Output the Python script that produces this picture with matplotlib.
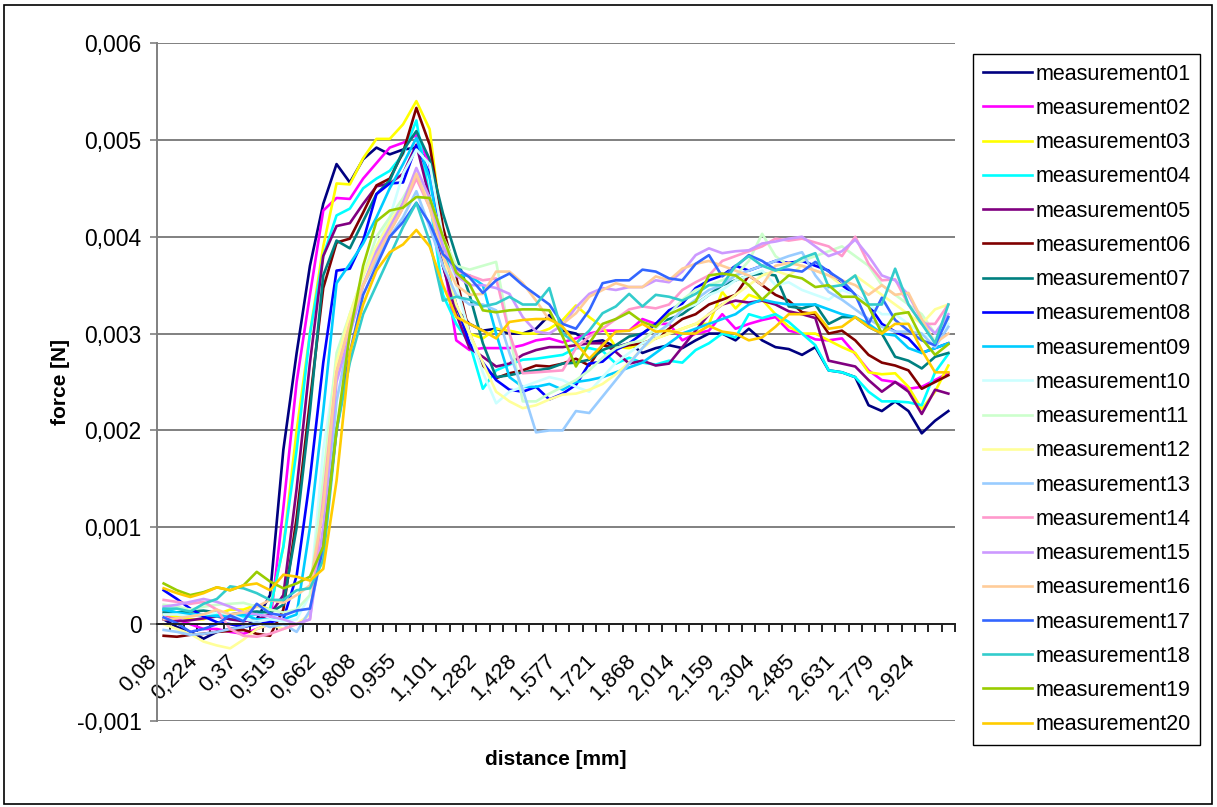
import matplotlib.pyplot as plt
from matplotlib.patches import Rectangle
from matplotlib.transforms import ScaledTranslation
import numpy as np

plt.rcParams['font.family'] = ['Liberation Sans', 'DejaVu Sans']

# category labels on the distance axis (every 3rd category is labelled)
distance_labels = ['0,08', '0,224', '0,37', '0,515', '0,662', '0,808', '0,955', '1,101',
                   '1,282', '1,428', '1,577', '1,721', '1,868', '2,014', '2,159', '2,304',
                   '2,485', '2,631', '2,779', '2,924']

# force values, in units of 1e-4 N (60 points each)
m01 = [0.5, -0.3, -0.8, -1.5, -0.8, -0.5, -0.3, 0.5, 3, 18,
       28, 37, 43.4, 47.5, 45.6, 48, 49.2, 48.5, 49, 49.2,
       47.6, 37, 32.5, 31, 30.3, 30.5, 30, 30, 30.5, 31.9,
       30.3, 30, 29.1, 29.3, 28.6, 29, 28, 28.5, 28.8, 28.5,
       29.3, 30, 30, 29.3, 30.5, 29.3, 28.6, 28.4, 27.8, 28.6,
       26.2, 26, 25.5, 22.6, 22, 23, 22, 19.7, 21, 22]
m02 = [1, 0.5, 0, -0.5, -0.5, -0.8, -1, -0.5, 0, 12,
       25, 34, 42.7, 44, 43.9, 46, 47.6, 49.2, 49.7, 50.5,
       47.5, 38, 29.3, 28.3, 28.5, 28.5, 28.5, 28.8, 29.3, 29.5,
       29.1, 29.5, 30, 30.3, 30.3, 30.3, 31.5, 31, 31, 29.3,
       30, 30.3, 32, 30.5, 31, 31.4, 31.7, 30.3, 30, 29.4,
       29.3, 29.5, 27.9, 26.2, 25.2, 25, 24.3, 24.5, 25.2, 25.9]
m03 = [1, 0.8, 0.5, 0.5, 1, 1.5, 1.5, 2, 1.5, 8,
       20, 30, 39, 45.5, 45.4, 48.1, 50.1, 50.1, 51.6, 54,
       51.1, 40, 32, 30, 29.5, 30.5, 30.3, 30, 30, 30.5,
       31.4, 32.9, 31.7, 30.7, 28.6, 28.5, 29, 29.5, 30, 30.5,
       31, 31, 34.3, 32.6, 34, 33.5, 32, 30.7, 30, 30,
       29.3, 28.6, 28, 26, 25.8, 25.9, 24.5, 22.2, 24, 26.7]
m04 = [1.5, 1.2, 1, 0.8, 1, 0.5, 0.8, 1, 1.5, 8,
       18, 30, 38, 42.2, 42.9, 45, 46, 46.8, 48.5, 52,
       44, 34, 31, 29, 24.3, 26.2, 26.8, 27.3, 27.4, 27.6,
       27.8, 28.5, 28.5, 28.2, 26.9, 27.5, 27, 26.8, 27.2, 27,
       28.3, 29, 30, 29.6, 32, 31.6, 32, 31.2, 30, 28.8,
       26.2, 26, 25.5, 24, 23, 23, 22.9, 22.6, 26, 27.9]
m05 = [0.5, 0.3, 0.4, 0.6, 0.8, 0.5, 0.3, 0.5, 1, 3,
       14, 27, 38, 41.1, 41.4, 43.4, 45.2, 45.5, 46.5, 49.5,
       44, 37, 32, 28.5, 27.6, 26.6, 26.9, 27.8, 28.3, 28.6,
       28.6, 28.8, 29, 29, 28.1, 26.9, 27.2, 26.7, 26.9, 28.6,
       30.3, 32, 33, 33.4, 33.2, 33.4, 33, 32.3, 32, 31.6,
       27.2, 26.9, 26.6, 25.2, 24, 25, 24, 21.7, 24.2, 23.8]
m06 = [-1.2, -1.3, -1.1, -1, -0.8, -0.7, -0.6, -1, -1.2, 1.5,
       11, 23, 34.7, 39.4, 39.8, 42.5, 45.3, 46, 48.7, 53.3,
       49.5, 41, 35.8, 30, 26.7, 25.4, 25.9, 26.2, 26.7, 26.6,
       26.9, 27.4, 26.7, 28.8, 28.5, 28.8, 29, 29.5, 30.5, 31.5,
       32, 33, 33.5, 34, 36, 35, 34, 33.4, 32.2, 32,
       30, 30.3, 29.3, 27.8, 27, 26.7, 26.2, 24.3, 25, 25.7]
m07 = [1.2, 1.2, 1.3, 1.4, 1.2, 1, 1.2, 1.3, 1.2, 2,
       10, 22, 36, 39.6, 38.8, 41.6, 44.4, 45.8, 48.9, 50.9,
       48, 42.4, 38, 34, 29, 25.5, 25.7, 26, 26.2, 26.4,
       26.9, 27, 27.3, 28.3, 28.8, 29.7, 30, 31, 31.5, 32,
       33, 34, 35, 35.5, 36, 36.2, 36, 32.8, 32.6, 33,
       31, 31.7, 31.7, 30.7, 30, 27.6, 27.2, 26.4, 27.6, 28]
m08 = [3.5, 2.6, 1.6, 0.8, 0.2, 0, -0.3, 0, 0.2, 0.5,
       5, 15, 27, 36.5, 36.7, 39.6, 44.4, 45.5, 45.6, 49.4,
       46.5, 38, 33, 29, 27, 25.2, 24.2, 24, 24.5, 23.2,
       23.8, 24.7, 26.9, 27.1, 28.3, 29, 30, 31, 32.4, 33.1,
       34.7, 35.5, 36, 37, 36.5, 37, 37.5, 37.3, 37.5, 37,
       36.5, 35, 34, 33, 31, 30.2, 29.5, 28, 28.5, 29]
m09 = [1.5, 1.2, 1, 1, 0.8, 0.8, 1, 0.5, 0.5, 0.5,
       1, 10, 22, 35.2, 37.2, 39.3, 42, 45, 47.5, 50.2,
       46, 38, 36, 36, 35, 30, 25.5, 24.5, 24.5, 24.8,
       24.2, 25, 25.2, 25.5, 26, 26.5, 27, 28, 29, 30,
       30.5, 31, 31.5, 32, 33, 33.5, 33.2, 33, 33, 33,
       32.5, 32, 31.7, 31, 30, 29.8, 28.5, 28, 28.5, 29]
m10 = [1, 1, 0.8, 1, 1.2, 1, 0.5, 0.3, 0.5, 0.3,
       0.5, 3, 18, 27, 32, 36, 39, 42, 46.5, 49,
       47.5, 40, 35, 30, 26, 22.8, 24, 24.5, 25, 25.5,
       25.2, 24.5, 24, 25.5, 27, 28, 29, 29.5, 31, 32.5,
       33, 34, 34.5, 35.5, 36, 36.5, 35, 35.3, 34.5, 34,
       33.5, 34.5, 34, 33, 32, 32, 31, 30, 29.5, 31]
m11 = [2, 1.8, 1.5, 1.8, 2, 2.1, 2.2, 1.8, 1.5, 1.2,
       1.5, 3, 15, 28, 32, 36, 40, 42, 44, 46.5,
       44, 40, 37, 36.6, 37, 37.4, 30, 23, 23, 23.8,
       24.5, 25.2, 26.2, 27.5, 28.5, 29, 29.3, 30.5, 32, 33.5,
       34.5, 35, 35.5, 36, 37.5, 40.3, 38, 37, 37.5, 38,
       38.5, 39, 38, 37, 35, 34, 33, 32, 30, 31.5]
m12 = [0, -0.5, -1, -1.8, -2.2, -2.5, -1.6, -0.5, 0, -0.5,
       0, 1, 13, 27, 32, 36, 39, 41.5, 43.5, 46,
       44, 38, 33, 30, 27, 24, 23, 22.3, 22.6, 23.2,
       23.7, 23.8, 24.2, 24.8, 25.8, 27, 28.5, 29.5, 30, 30.5,
       31, 32, 33, 34, 35, 36, 36.5, 36, 37, 36.5,
       36, 35, 36, 35, 34, 33, 32, 31, 32.5, 33]
m13 = [-0.6, -0.8, -1.1, -1, -0.8, -0.5, -0.3, 0.2, -0.3, 0,
       -0.8, 1.4, 8, 23, 30, 35, 37.5, 40, 42, 44.7,
       41, 37, 34, 33, 33, 32.4, 28, 24.2, 19.8, 20,
       20, 22, 21.8, 23.5, 25.2, 26.9, 28.5, 30, 31, 32.5,
       33.5, 34.5, 35, 36, 36.5, 37, 37.5, 38, 38.4, 36,
       34.3, 33.5, 32.5, 31.5, 30.7, 30.2, 30.2, 30, 28.6, 30.7]
m14 = [2.5, 2.3, 2.1, 2.3, 1.5, -0.5, -1.2, -1.3, -1, -0.5,
       0, 0.5, 13, 26, 31, 35, 38, 40.5, 43, 46,
       43, 39, 36.5, 36, 35.5, 35.7, 30, 25.9, 26, 26.1,
       26.2, 28.5, 29.7, 30.5, 31.5, 32.5, 32.8, 32.6, 33, 34.5,
       35.3, 36, 37.5, 38, 38.5, 39, 39.8, 39.6, 39.8, 39.4,
       39, 38, 40, 37.2, 35.5, 35.6, 33, 31, 31, 33]
m15 = [1.8, 2, 2.3, 2.6, 2.3, 1.8, 1.2, 1, 0.8, 0.5,
       0, 0.5, 10, 25, 30, 35, 38.5, 41, 43.5, 47.1,
       44, 39, 36, 35, 35, 34.7, 34.1, 31.7, 30.2, 30,
       30.9, 32.7, 34.1, 34.7, 34.5, 34.8, 34.8, 35.5, 35.3, 36.4,
       38.1, 38.8, 38.3, 38.5, 38.6, 39.3, 39.5, 39.8, 40, 39,
       38, 38.5, 39.7, 38, 36, 35.5, 34, 31.4, 30, 32]
m16 = [0.5, 0.6, 0.8, 1, 1.5, 1, 1.2, 1.8, 2.5, 2.2,
       3, 4, 12, 26, 31, 35, 38, 40.5, 43, 46.5,
       43, 38, 35, 34, 34.1, 36.4, 36.4, 35.2, 33.4, 31.4,
       31, 32.1, 33.8, 34.5, 35.2, 34.8, 34.8, 35.9, 35.5, 36.7,
       37.2, 37.5, 37, 36.5, 36, 35, 37, 37.3, 37, 36.5,
       36, 35.5, 35, 34, 35, 34, 34.2, 31.5, 29, 30]
m17 = [0.7, 0.1, -0.8, -0.5, 0, 0.9, 0.3, 2.1, 1.1, 0.9,
       1.4, 1.6, 8, 20, 28, 34, 37, 40, 41.5, 43.5,
       41.4, 38.2, 36.8, 35.8, 34.2, 35.5, 36.2, 35, 34, 33,
       31, 30.5, 32.4, 35.2, 35.5, 35.5, 36.6, 36.4, 35.7, 35.5,
       37.2, 38.1, 35.9, 36.9, 38.1, 37.5, 36.6, 36.6, 36.4, 37.4,
       36.4, 35.5, 34, 31, 33.7, 31.4, 30.3, 29.3, 28.8, 31.7]
m18 = [1.6, 1.6, 1.3, 2.1, 2.6, 3.9, 3.7, 3.2, 2.5, 2.5,
       3.5, 3.7, 6.6, 20, 27, 32, 35, 38, 41, 43.5,
       39.5, 33.4, 33.8, 33.5, 32.8, 33.1, 33.8, 33, 33, 34.7,
       30, 29, 30.3, 32.1, 32.8, 34.1, 32.8, 34, 33.8, 33.4,
       34.1, 35, 35, 37, 38, 37, 36.5, 37, 37.8, 38.3,
       34.8, 35, 36, 33, 33, 36.7, 33, 31, 29, 33]
m19 = [4.2, 3.5, 3.0, 3.3, 3.8, 3.5, 4.0, 5.4, 4.4, 3.7,
       4.2, 4.9, 8, 20, 30, 37, 41.6, 42.7, 43, 44.1,
       44, 40, 36.3, 35.1, 32.4, 32.2, 32.4, 32.5, 32.5, 32.4,
       29.7, 26.6, 29, 31, 31.5, 32.2, 31.2, 30.7, 32, 32.6,
       33.3, 36, 36.2, 36, 35, 33.5, 34.8, 36, 35.7, 34.8,
       35, 33.8, 33.8, 32.8, 30, 32, 32.2, 29.5, 27.8, 28.9]
m20 = [3.7, 3.2, 2.8, 3.2, 3.8, 3.5, 4.0, 4.2, 3.5, 5.1,
       4.9, 4.5, 5.7, 14.8, 28, 33, 36.5, 38.4, 39.2, 40.7,
       39, 35, 31.7, 31, 30.3, 29.5, 31.2, 31.4, 31.5, 31.5,
       30.7, 29, 27.4, 28.8, 30.2, 30.3, 31, 30.2, 30.3, 30,
       30, 30.8, 30.2, 30, 29.3, 29.6, 30.7, 32, 32, 32.2,
       30.5, 30.7, 31.7, 30.7, 30, 31, 31, 28.3, 26, 26]

series = [m01, m02, m03, m04, m05, m06, m07, m08, m09, m10,
          m11, m12, m13, m14, m15, m16, m17, m18, m19, m20]
names = ['measurement%02d' % (k + 1) for k in range(len(series))]
colors = ['#000080', '#ff00ff', '#ffff00', '#00ffff', '#800080', '#800000', '#008080',
          '#0000ff', '#00ccff', '#ccffff', '#ccffcc', '#ffff99', '#99ccff', '#ff99cc',
          '#cc99ff', '#ffcc99', '#3366ff', '#33cccc', '#99cc00', '#ffcc00']

fig = plt.figure(figsize=(12.17, 8.07), dpi=100)
ax = fig.add_axes([157 / 1217, 1 - 721 / 807, 798 / 1217, 678 / 807])

x = np.arange(len(m01))
for vals, col, name in zip(series, colors, names):
    ax.plot(x, np.array(vals) * 1e-4, color=col, lw=1.9, label=name)

ax.set_xlim(-0.5, len(m01) - 0.5)
ax.set_ylim(-0.001, 0.006)
yt = [-0.001, 0, 0.001, 0.002, 0.003, 0.004, 0.005, 0.006]
ax.set_yticks(yt)
ax.set_yticklabels(['-0,001', '0', '0,001', '0,002', '0,003', '0,004', '0,005', '0,006'],
                   fontsize=16.5)
ax.grid(axis='y', color='#808080', lw=1.4)
ax.set_axisbelow(True)

for s in ['top', 'right']:
    ax.spines[s].set_visible(False)
ax.spines['left'].set_color('#808080')
ax.spines['left'].set_linewidth(1.4)
ax.spines['bottom'].set_position(('data', 0))
ax.spines['bottom'].set_color('#202020')
ax.spines['bottom'].set_linewidth(1.4)

ax.set_xticks(np.arange(-0.5, len(m01), 1))
ax.set_xticklabels([])
ax.tick_params(axis='x', which='major', length=6, width=1.2, direction='out')
ax.set_xticks(np.arange(0, len(m01), 3), minor=True)
ax.set_xticklabels(distance_labels, minor=True, rotation=45, ha='right', va='top',
                   rotation_mode='anchor', fontsize=16)
ax.tick_params(axis='x', which='minor', length=0, pad=19)
shift = ScaledTranslation(-17 / 100, 0, fig.dpi_scale_trans)
for lab in ax.get_xticklabels(minor=True):
    lab.set_transform(lab.get_transform() + shift)
ax.tick_params(axis='y', length=5, width=1.2, color='#808080', pad=6)

ax.set_ylabel('force [N]', fontsize=15, fontweight='bold', va='center')
ax.yaxis.set_label_coords(-0.1215, 0.5)
ax.set_xlabel('distance [mm]', fontsize=15, fontweight='bold')
ax.xaxis.set_label_coords(0.5, -0.057)
ax.xaxis.label.set_va('center')

leg = fig.legend(loc='upper left', bbox_to_anchor=(973 / 1217, 1 - 54 / 807),
                 fontsize=15.5, frameon=True, fancybox=False, framealpha=1,
                 edgecolor='black', borderaxespad=0, borderpad=0.45,
                 handlelength=2.3, handletextpad=0.15, labelspacing=0.615)
leg.get_frame().set_linewidth(1.0)

fig.patches.append(Rectangle((0.003, 0.004), 0.993, 0.99, transform=fig.transFigure,
                             fill=False, edgecolor='black', lw=1.2))

fig.savefig('out.png', dpi=100)
